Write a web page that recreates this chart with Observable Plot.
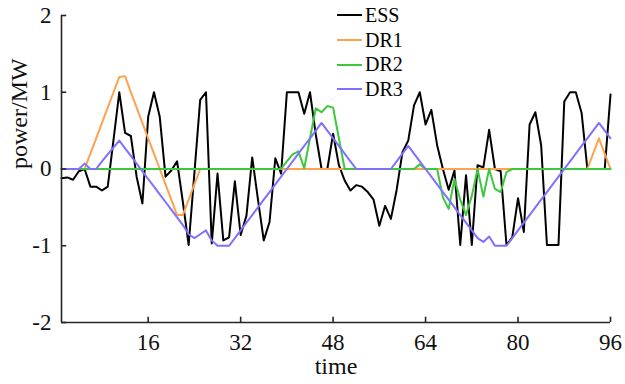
<!DOCTYPE html>
<html><head><meta charset="utf-8">
<script src="https://cdn.jsdelivr.net/npm/d3@7"></script>
<script src="https://cdn.jsdelivr.net/npm/@observablehq/plot@0.6"></script>
<style>
body{margin:0;background:#fff;}
#wrap{position:relative;width:625px;height:384px;font-family:"Liberation Serif",serif;}
#legend{position:absolute;left:337px;top:3px;font-size:20px;color:#000;}
#legend .row{display:flex;align-items:center;height:24.7px;}
#legend .sw{width:25px;height:2px;margin-right:3px;}
svg text{font-family:"Liberation Serif",serif;}
</style></head><body><div id="wrap"><div id="legend"></div></div>
<script>
const seriesNames = ["ESS", "DR1", "DR2", "DR3"];
const seriesColors = ["#000000", "#ffa24f", "#3cc83c", "#8070ff"];
const xTicks = [16, 32, 48, 64, 80, 96];
const yTicks = [-2, -1, 0, 1, 2];

const ESS = [-0.12,-0.11,-0.14,-0.03,0.0,-0.23,-0.23,-0.28,-0.23,0.38,
  1.0,0.47,0.43,-0.1,-0.45,0.68,1.0,0.68,-0.1,-0.02,
  0.1,-0.43,-0.99,-0.05,0.9,1.0,-0.97,-0.06,-0.93,-0.89,
  -0.16,-0.86,-0.61,0.15,-0.4,-0.93,-0.69,0.14,-0.06,1.0,
  1.0,1.0,0.72,1.0,0.45,0.0,0.0,0.46,0.05,-0.15,
  -0.28,-0.21,-0.23,-0.3,-0.4,-0.74,-0.48,-0.65,-0.27,0.22,
  0.37,0.83,1.0,0.58,0.77,0.31,0.0,-0.27,-0.02,-0.99,
  -0.08,-0.99,0.05,0.02,0.51,0.0,-0.03,-0.99,-0.89,-0.38,
  -0.82,0.58,0.74,0.31,-0.99,-0.99,-0.99,0.88,1.0,1.0,
  0.73,0.0,0.0,0.0,0.0,0.97];

const DR1 = [0,0,0,0,0,0.2,0.4,0.6,0.8,1.0,
  1.2,1.21,1.0,0.8,0.6,0.4,0.2,0,-0.2,-0.4,
  -0.6,-0.6,-0.4,-0.2,0,0,0,0,0,0,
  0,0,0,0,0,0,0,0,0,0,
  0,0,0,0,0,0,0,0,0,0,
  0,0,0,0,0,0,0,0,0,0,
  0,0,0,0,0,0,0,0,0,0,
  0,0,0,0,0,0,0,0,0,0,
  0,0,0,0,0,0,0,0,0,0,
  0,0,0.2,0.4,0.2,0];

const DR2 = [0,0,0,0,0,0,0,0,0,0,
  0,0,0,0,0,0,0,0,0,0,
  0,0,0,0,0,0,0,0,0,0,
  0,0,0,0,0,0,0,0,0,0.1,
  0.19,0.23,0.01,0.4,0.79,0.74,0.82,0.8,0.4,0,
  0,0,0,0,0,0,0,0,0,0,
  0,0,0.06,0,0,0,-0.37,-0.52,-0.13,-0.4,
  -0.6,-0.35,0,-0.36,0,-0.26,-0.3,-0.04,0,0,
  0,0,0,0,0,0,0,0,0,0,
  0,0,0,0,0,0];

const DR3 = [0,0,0,0,0.07,0,0,0.1,0.19,0.28,
  0.37,0.27,0.17,0.07,-0.03,-0.13,-0.23,-0.33,-0.43,-0.53,
  -0.63,-0.73,-0.85,-0.9,-0.85,-0.8,-0.93,-1.0,-1.0,-1.0,
  -0.9,-0.8,-0.7,-0.6,-0.5,-0.4,-0.3,-0.2,-0.1,0,
  0.1,0.2,0.3,0.4,0.5,0.6,0.5,0.4,0.3,0.2,
  0.1,0,0,0,0,0,0,0,0.1,0.2,
  0.3,0.2,0.1,0,-0.1,-0.2,-0.3,-0.4,-0.5,-0.6,
  -0.7,-0.8,-0.9,-0.95,-0.88,-1.0,-1.0,-1.0,-0.9,-0.8,
  -0.7,-0.6,-0.5,-0.4,-0.3,-0.2,-0.1,0,0.1,0.2,
  0.3,0.4,0.5,0.6,0.5,0.4];

const allSeries = [ESS, DR1, DR2, DR3];
const tables = allSeries.map(arr => arr.map((v, i) => ({t: i + 1, v})));

const font = '"Liberation Serif", serif';
const axisColor = "#262626";

const plot = Plot.plot({
  width: 625, height: 384,
  marginLeft: 61, marginRight: 15, marginTop: 15, marginBottom: 62,
  x: {domain: [1, 96]},
  y: {domain: [-2, 2]},
  style: {fontFamily: font, fontSize: "23px", color: "#111", background: "white"},
  marks: [
    ...tables.map((tb, k) => Plot.line(tb, {x: "t", y: "v", stroke: seriesColors[k], strokeWidth: 2})),
    Plot.ruleY([-2], {stroke: axisColor, strokeWidth: 1.6}),
    Plot.ruleX([1], {stroke: axisColor, strokeWidth: 1.6}),
    Plot.ruleX(xTicks, {x: d => d, y1: -2, y2: -1.93, stroke: axisColor, strokeWidth: 1.6}),
    Plot.ruleY(yTicks, {y: d => d, x1: 1, x2: 1.9, stroke: axisColor, strokeWidth: 1.6}),
    Plot.axisX({ticks: xTicks, tickSize: 0, tickPadding: 11, label: null, tickFormat: d => String(d), fontSize: 23}),
    Plot.axisY({ticks: yTicks, tickSize: 0, tickPadding: 10, label: null, tickFormat: d => String(d), fontSize: 23}),
    Plot.text(["time"], {frameAnchor: "bottom", dy: 51, text: d => d, fontSize: 24, fill: "#111"}),
    Plot.text(["power/MW"], {frameAnchor: "left", dx: -42, rotate: -90, text: d => d, fontSize: 24, fill: "#111"})
  ]
});
document.getElementById("wrap").prepend(plot);

const legend = document.getElementById("legend");
seriesNames.forEach((name, k) => {
  const row = document.createElement("div");
  row.className = "row";
  const sw = document.createElement("span");
  sw.className = "sw";
  sw.style.background = seriesColors[k];
  const tx = document.createElement("span");
  tx.textContent = name;
  row.appendChild(sw); row.appendChild(tx);
  legend.appendChild(row);
});
</script></body></html>
